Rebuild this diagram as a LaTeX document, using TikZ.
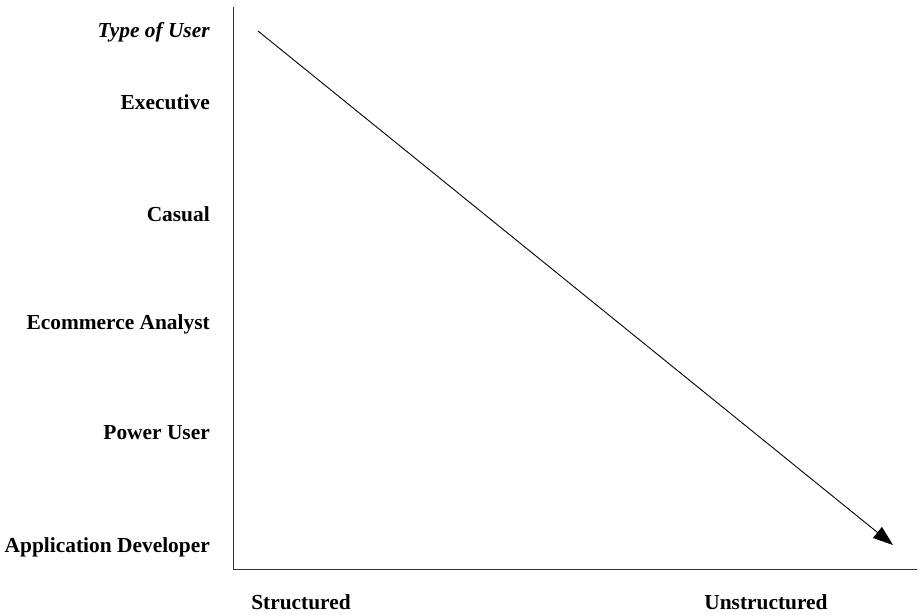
\documentclass[tikz,border=0pt]{standalone}
\usepackage{fontspec}
\setmainfont{Liberation Serif}
\usetikzlibrary{arrows.meta}

\tikzset{
    usertype/.style={anchor=east, inner sep=0pt, font=\fontsize{21.4}{24}\selectfont\bfseries},
    axislabel/.style={inner sep=0pt, font=\fontsize{21.4}{24}\selectfont\bfseries}
}

\begin{document}
\begin{tikzpicture}[x=1pt, y=-1pt, >={Triangle[length=20pt,width=14pt]}]
    \useasboundingbox (0,0) rectangle (919,614);
    % Axes
    \coordinate (top) at (233,7);
    \coordinate (origin) at (233,569);
    \coordinate (right) at (917,569);
    \draw[line width=0.9pt, black!80] (top) -- (origin) -- (right);
    % Types of user
    \node[usertype] (type) at (210,32) {\textit{Type of User}};
    \node[usertype] (exec) at (210,102) {Executive};
    \node[usertype] (casual) at (210,214) {Casual};
    \node[usertype] (ecom) at (210,324) {Ecommerce Analyst};
    \node[usertype] (power) at (210,433) {Power User};
    \node[usertype] (appdev) at (210,547) {Application Developer};
    % Bottom labels
    \node[axislabel] (struct) at (301,602) {Structured};
    \node[axislabel] (unstruct) at (766,602) {Unstructured};
    % Trend arrow
    \coordinate (start) at (258,31);
    \coordinate (end) at (893,545);
    \draw[->, line width=0.9pt] (start) -- (end);
\end{tikzpicture}
\end{document}
